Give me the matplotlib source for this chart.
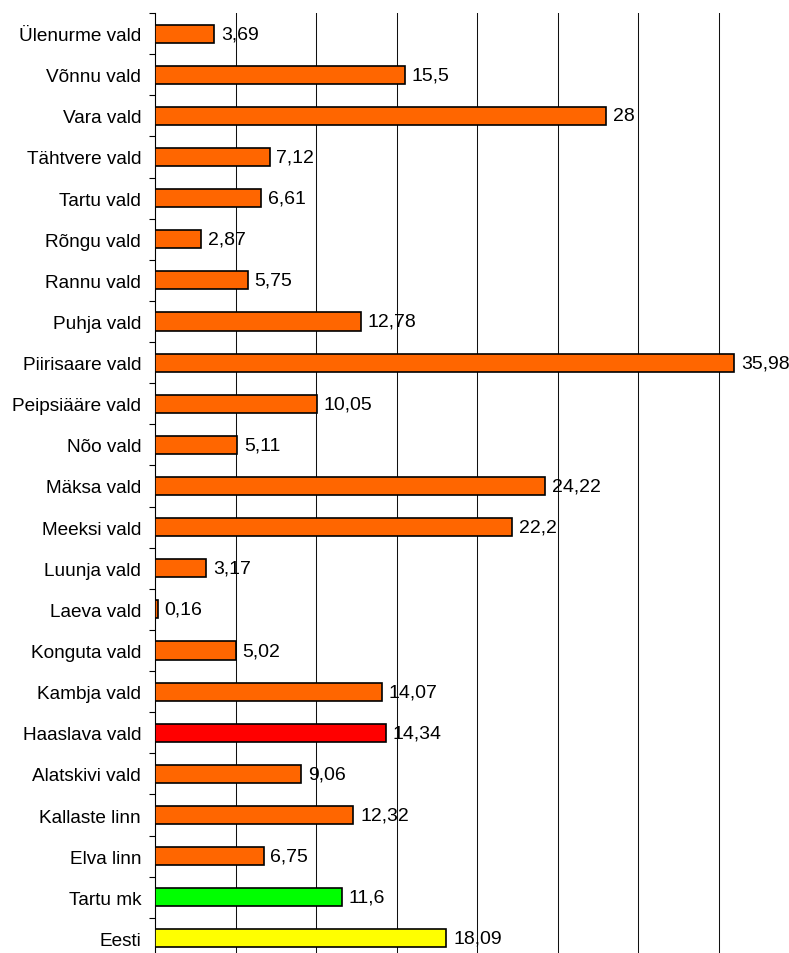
import matplotlib.pyplot as plt
import numpy as np

# data, top to bottom as shown
names = ["Ülenurme vald", "Võnnu vald", "Vara vald", "Tähtvere vald", "Tartu vald",
         "Rõngu vald", "Rannu vald", "Puhja vald", "Piirisaare vald", "Peipsiääre vald",
         "Nõo vald", "Mäksa vald", "Meeksi vald", "Luunja vald", "Laeva vald",
         "Konguta vald", "Kambja vald", "Haaslava vald", "Alatskivi vald", "Kallaste linn",
         "Elva linn", "Tartu mk", "Eesti"]
values = [3.69, 15.5, 28, 7.12, 6.61, 2.87, 5.75, 12.78, 35.98, 10.05,
          5.11, 24.22, 22.2, 3.17, 0.16, 5.02, 14.07, 14.34, 9.06, 12.32,
          6.75, 11.6, 18.09]
labels = ["3,69", "15,5", "28", "7,12", "6,61", "2,87", "5,75", "12,78", "35,98", "10,05",
          "5,11", "24,22", "22,2", "3,17", "0,16", "5,02", "14,07", "14,34", "9,06", "12,32",
          "6,75", "11,6", "18,09"]

special = {"Haaslava vald": "#FF0000", "Tartu mk": "#00FF00", "Eesti": "#FFFF00"}
colors = [special.get(n, "#FF6600") for n in names]

plt.rcParams['font.family'] = ['Liberation Sans', 'DejaVu Sans']

fig = plt.figure(figsize=(7.89, 9.54), dpi=100)
# axes runs off the right and bottom edge like the source screenshot
ax = fig.add_axes([155 / 789, -6 / 954, 644 / 789, 946 / 954])

y = np.arange(len(names))
ax.barh(y, values, height=0.44, color=colors, edgecolor="black", linewidth=1.2, zorder=3)
for yi, v, lab in zip(y, values, labels):
    ax.text(v + 0.42, yi, lab, va="center", ha="left", fontsize=14, zorder=4)

ax.set_xlim(0, 40)
ax.set_ylim(len(names) - 0.5, -0.5)
ax.set_xticks(np.arange(5, 40, 5))
ax.set_xticklabels([])
ax.xaxis.grid(True, color="#111111", linewidth=0.75, zorder=0)
ax.tick_params(axis="x", length=0)

ax.set_yticks(y)
ax.set_yticklabels(names, fontsize=13.7)
ax.tick_params(axis="y", length=0, pad=10)
ax.set_yticks(np.arange(-0.5, len(names), 1), minor=True)
ax.tick_params(axis="y", which="minor", length=4, width=0.8, direction="out")

for s in ["top", "right", "bottom"]:
    ax.spines[s].set_visible(False)
ax.spines["left"].set_linewidth(0.8)

fig.savefig("out.png", dpi=100)
